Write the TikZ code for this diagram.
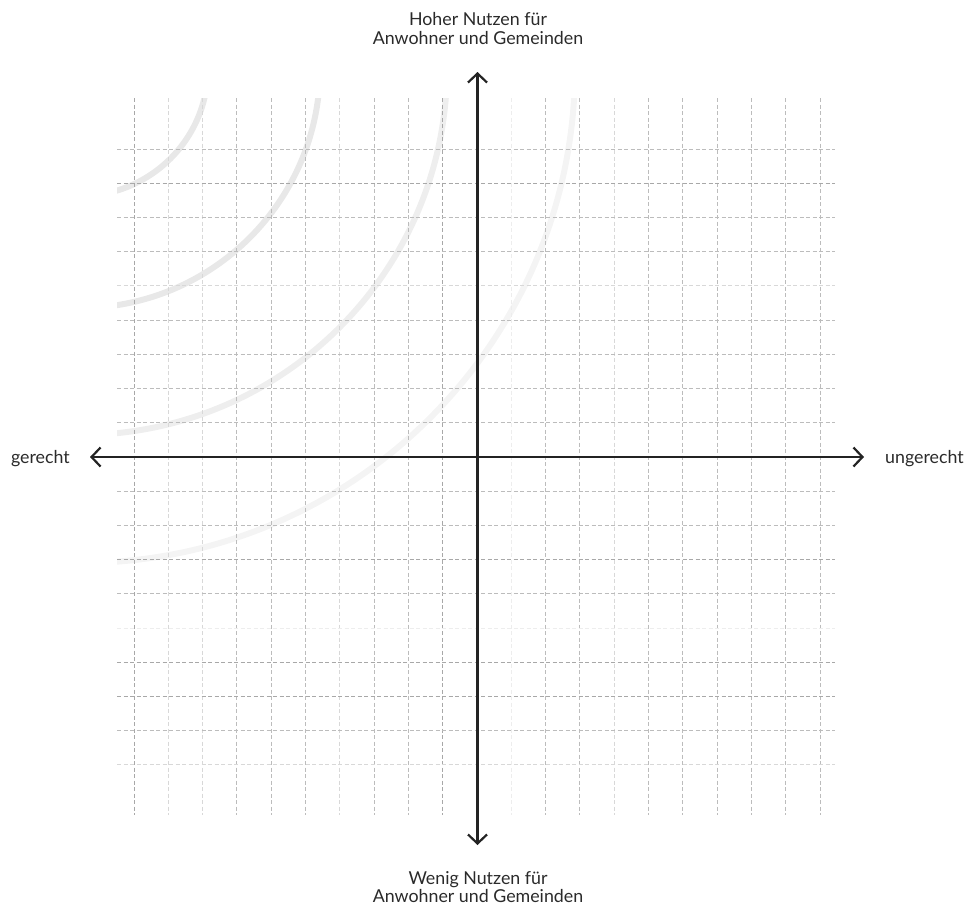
\documentclass[tikz,border=0pt]{standalone}
\usepackage{fontspec}
\setmainfont{Lato}
\usetikzlibrary{arrows.meta}
\definecolor{gdark}{HTML}{A8A8A8}
\definecolor{gmid}{HTML}{BCBCBC}
\definecolor{glight}{HTML}{D8D8D8}
\definecolor{gvlight}{HTML}{EDEDED}
\definecolor{axiscol}{HTML}{232323}
\definecolor{txtcol}{HTML}{2A2A2A}
\tikzset{
  gridline/.style={line width=1pt, dash pattern=on 4pt off 2.5pt},
  arcline/.style={line width=6pt},
  axisline/.style={line width=2.4pt, draw=axiscol, {Straight Barb[length=9pt,width=19pt,line width=2.2pt]}-{Straight Barb[length=9pt,width=19pt,line width=2.2pt]}},
  axislabel/.style={inner sep=0pt, text=txtcol, font=\fontsize{17.8}{18.5}\selectfont},
}
\begin{document}
\begin{tikzpicture}[x=1pt,y=-1pt]
\useasboundingbox (0,0) rectangle (969,910);
% background arcs
\begin{scope}
\clip (117,98) rectangle (835,815);
\coordinate (ac) at (80,68);
\draw[arcline, draw=black!9] (ac) circle[radius=128];
\draw[arcline, draw=black!9] (ac) circle[radius=240];
\draw[arcline, draw=black!6.5] (ac) circle[radius=367];
\draw[arcline, draw=black!4.5] (ac) circle[radius=495];
\end{scope}
% vertical grid lines
\foreach \i/\c in {0/gdark,1/glight,2/glight,3/gmid,4/gmid,5/gmid,6/glight,7/gmid,8/gmid,9/gdark,11/gvlight,12/gmid,13/gmid,14/glight,15/gmid,16/gmid,17/gmid,18/gmid,19/gmid,20/gmid}{
  \draw[gridline, draw=\c] ({134+\i*34.3},98) -- ({134+\i*34.3},815);
}
% horizontal grid lines
\foreach \j/\c in {0/gmid,1/gdark,2/gmid,3/gmid,4/glight,5/gmid,6/gmid,7/gmid,8/gmid,10/gmid,11/gmid,12/gdark,13/gmid,14/gvlight,15/gdark,16/gdark,17/gmid,18/glight}{
  \draw[gridline, draw=\c] (117,{149+\j*34.22}) -- (835,{149+\j*34.22});
}
% axes
\coordinate (L) at (90,457);
\coordinate (R) at (864,457);
\coordinate (T) at (477.5,72);
\coordinate (B) at (477.5,845);
\draw[axisline] (L) -- (R);
\draw[axisline] (B) -- (T);
% labels
\node[axislabel, anchor=east] (lg) at (70,459) {gerecht};
\node[axislabel, anchor=west] (lu) at (885,459) {ungerecht};
\node[axislabel, align=center] (lt) at (478,28.5) {Hoher Nutzen für\\Anwohner und Gemeinden};
\node[axislabel, align=center] (lb) at (478,887) {Wenig Nutzen für\\Anwohner und Gemeinden};
\end{tikzpicture}
\end{document}
